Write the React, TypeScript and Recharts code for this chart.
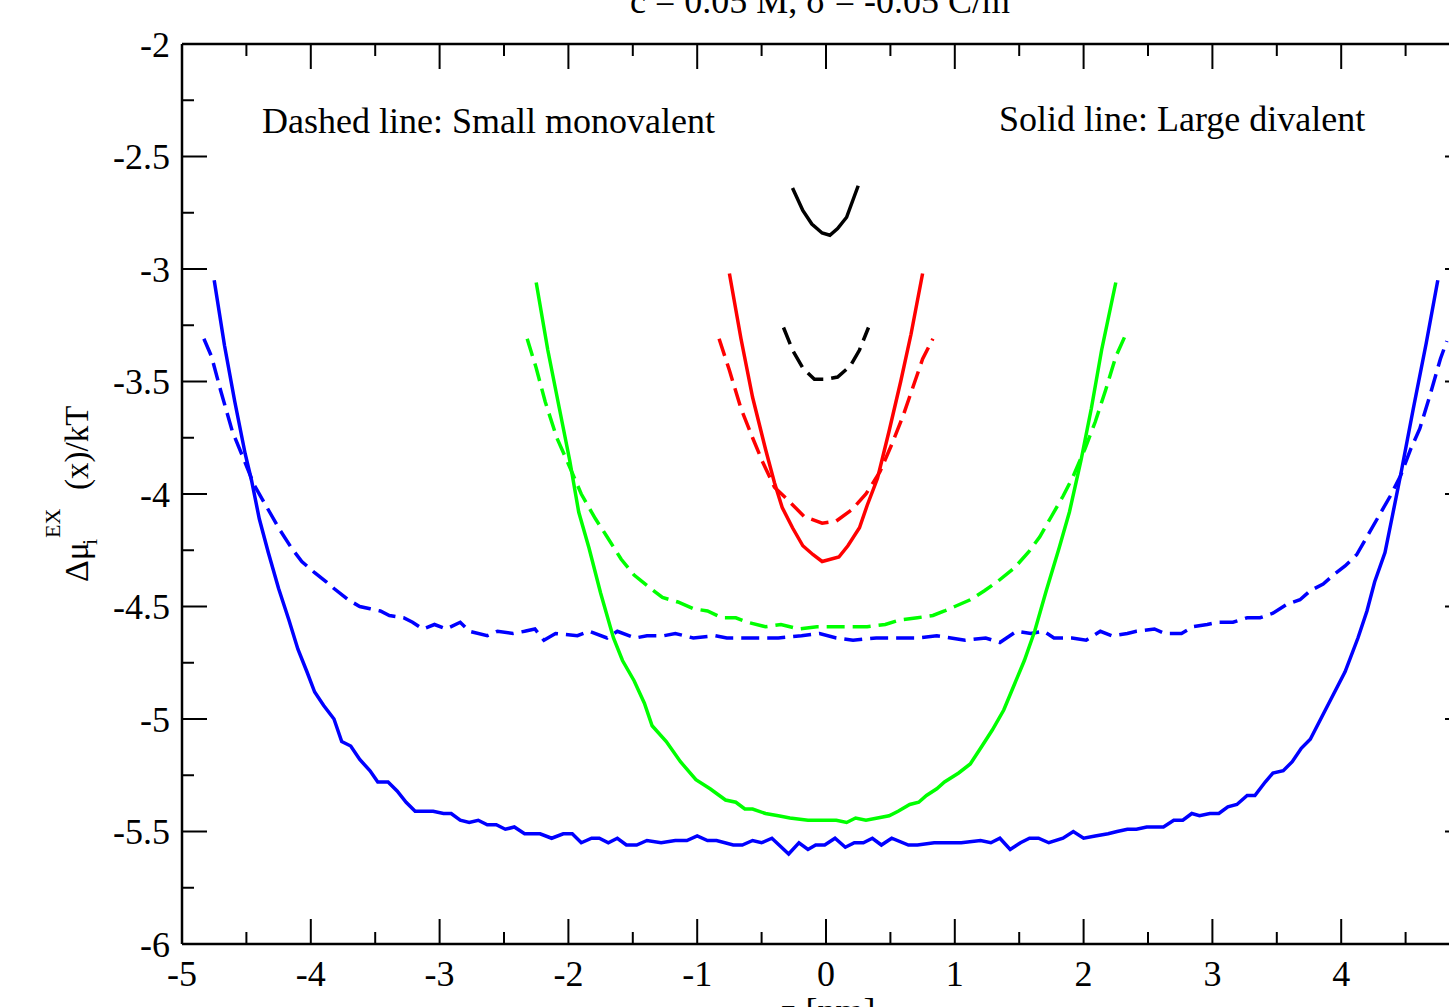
import React from "react";
import { LineChart, Line, XAxis, YAxis } from "recharts";

// Excess chemical potential profiles across the pore, z in nm
type Pt = [number, number];

const blueSolid: Pt[] = [
  [-4.75, -3.05], [-4.67, -3.34], [-4.59, -3.59], [-4.51, -3.82], [-4.46, -3.94], [-4.4, -4.11],
  [-4.33, -4.26], [-4.25, -4.42], [-4.17, -4.56], [-4.1, -4.69], [-4.03, -4.79], [-3.97, -4.88],
  [-3.9, -4.94], [-3.82, -5.0], [-3.76, -5.1], [-3.69, -5.12], [-3.62, -5.18], [-3.54, -5.23],
  [-3.48, -5.28], [-3.4, -5.28], [-3.33, -5.32], [-3.26, -5.37], [-3.19, -5.41], [-3.05, -5.41],
  [-2.97, -5.42], [-2.91, -5.42], [-2.84, -5.45], [-2.77, -5.46], [-2.7, -5.45], [-2.63, -5.47],
  [-2.56, -5.47], [-2.49, -5.49], [-2.42, -5.48], [-2.34, -5.51], [-2.28, -5.51], [-2.22, -5.51],
  [-2.13, -5.53], [-2.04, -5.51], [-1.97, -5.51], [-1.9, -5.55], [-1.82, -5.53], [-1.76, -5.53],
  [-1.69, -5.55], [-1.62, -5.53], [-1.55, -5.56], [-1.47, -5.56], [-1.39, -5.54], [-1.28, -5.55],
  [-1.17, -5.54], [-1.08, -5.54], [-1.0, -5.52], [-0.92, -5.54], [-0.85, -5.54], [-0.72, -5.56],
  [-0.65, -5.56], [-0.57, -5.54], [-0.5, -5.55], [-0.42, -5.53], [-0.29, -5.6], [-0.21, -5.55],
  [-0.14, -5.58], [-0.08, -5.56], [-0.01, -5.56], [0.07, -5.53], [0.15, -5.57], [0.22, -5.55],
  [0.29, -5.55], [0.36, -5.53], [0.43, -5.56], [0.51, -5.53], [0.64, -5.56], [0.71, -5.56],
  [0.84, -5.55], [0.95, -5.55], [1.05, -5.55], [1.2, -5.54], [1.28, -5.55], [1.35, -5.53],
  [1.43, -5.58], [1.51, -5.55], [1.58, -5.53], [1.65, -5.53], [1.73, -5.55], [1.84, -5.53],
  [1.92, -5.5], [2.0, -5.53], [2.09, -5.52], [2.19, -5.51], [2.26, -5.5], [2.34, -5.49],
  [2.41, -5.49], [2.49, -5.48], [2.62, -5.48], [2.7, -5.45], [2.77, -5.45], [2.84, -5.42],
  [2.9, -5.43], [2.98, -5.42], [3.05, -5.42], [3.12, -5.39], [3.19, -5.38], [3.27, -5.34],
  [3.33, -5.34], [3.41, -5.28], [3.47, -5.24], [3.55, -5.23], [3.62, -5.19], [3.69, -5.13],
  [3.76, -5.09], [3.85, -4.99], [3.94, -4.89], [4.03, -4.79], [4.13, -4.64], [4.2, -4.52],
  [4.26, -4.39], [4.34, -4.26], [4.4, -4.09], [4.47, -3.89], [4.56, -3.62], [4.66, -3.33],
  [4.75, -3.05],
];

const blueDashed: Pt[] = [
  [-4.83, -3.31], [-4.77, -3.39], [-4.7, -3.54], [-4.61, -3.72], [-4.51, -3.86], [-4.44, -3.96],
  [-4.33, -4.07], [-4.24, -4.16], [-4.15, -4.24], [-4.07, -4.3], [-3.97, -4.35], [-3.88, -4.39],
  [-3.82, -4.42], [-3.71, -4.47], [-3.62, -4.5], [-3.54, -4.51], [-3.46, -4.52], [-3.39, -4.54],
  [-3.28, -4.55], [-3.21, -4.57], [-3.13, -4.6], [-3.04, -4.58], [-2.95, -4.6], [-2.84, -4.57],
  [-2.77, -4.61], [-2.63, -4.63], [-2.55, -4.61], [-2.43, -4.62], [-2.34, -4.61], [-2.26, -4.6],
  [-2.19, -4.65], [-2.1, -4.62], [-1.93, -4.63], [-1.84, -4.61], [-1.7, -4.64], [-1.62, -4.61],
  [-1.48, -4.64], [-1.39, -4.63], [-1.26, -4.63], [-1.17, -4.62], [-1.03, -4.64], [-0.86, -4.63],
  [-0.77, -4.64], [-0.54, -4.64], [-0.37, -4.64], [-0.19, -4.63], [-0.05, -4.62], [0.08, -4.64],
  [0.21, -4.65], [0.39, -4.64], [0.57, -4.64], [0.71, -4.64], [0.86, -4.63], [0.97, -4.64],
  [1.08, -4.65], [1.24, -4.64], [1.35, -4.66], [1.48, -4.61], [1.59, -4.62], [1.69, -4.61],
  [1.77, -4.64], [1.91, -4.64], [2.02, -4.65], [2.13, -4.61], [2.22, -4.63], [2.34, -4.62],
  [2.41, -4.61], [2.55, -4.6], [2.63, -4.62], [2.76, -4.62], [2.85, -4.59], [2.96, -4.58],
  [3.04, -4.57], [3.16, -4.57], [3.27, -4.55], [3.37, -4.55], [3.47, -4.53], [3.58, -4.49],
  [3.68, -4.47], [3.76, -4.43], [3.86, -4.4], [3.94, -4.36], [4.03, -4.32], [4.12, -4.27],
  [4.2, -4.19], [4.3, -4.09], [4.38, -4.01], [4.46, -3.92], [4.54, -3.8], [4.61, -3.71],
  [4.69, -3.56], [4.77, -3.4], [4.82, -3.32],
];

const greenSolid: Pt[] = [
  [-2.25, -3.06], [-2.16, -3.36], [-2.07, -3.62], [-1.99, -3.85], [-1.92, -4.08], [-1.84, -4.24],
  [-1.75, -4.44], [-1.65, -4.64], [-1.58, -4.74], [-1.49, -4.83], [-1.41, -4.93], [-1.35, -5.03],
  [-1.24, -5.1], [-1.13, -5.19], [-1.01, -5.27], [-0.9, -5.31], [-0.78, -5.36], [-0.7, -5.37],
  [-0.63, -5.4], [-0.57, -5.4], [-0.47, -5.42], [-0.37, -5.43], [-0.28, -5.44], [-0.14, -5.45],
  [-0.01, -5.45], [0.08, -5.45], [0.16, -5.46], [0.23, -5.44], [0.31, -5.45], [0.4, -5.44],
  [0.49, -5.43], [0.56, -5.41], [0.65, -5.38], [0.72, -5.37], [0.78, -5.34], [0.86, -5.31],
  [0.92, -5.28], [1.03, -5.24], [1.12, -5.2], [1.2, -5.13], [1.29, -5.05], [1.38, -4.96],
  [1.46, -4.85], [1.54, -4.74], [1.62, -4.61], [1.71, -4.43], [1.81, -4.24], [1.89, -4.08],
  [1.98, -3.85], [2.06, -3.62], [2.14, -3.36], [2.25, -3.06],
];

const greenDashed: Pt[] = [
  [-2.32, -3.31], [-2.25, -3.44], [-2.18, -3.59], [-2.09, -3.75], [-1.99, -3.88], [-1.9, -4.0],
  [-1.79, -4.11], [-1.7, -4.19], [-1.59, -4.29], [-1.49, -4.36], [-1.36, -4.42], [-1.27, -4.46],
  [-1.15, -4.48], [-1.03, -4.51], [-0.92, -4.52], [-0.81, -4.55], [-0.7, -4.55], [-0.61, -4.57],
  [-0.47, -4.59], [-0.35, -4.58], [-0.21, -4.6], [-0.07, -4.59], [0.08, -4.59], [0.2, -4.59],
  [0.32, -4.59], [0.46, -4.58], [0.57, -4.56], [0.71, -4.55], [0.83, -4.54], [0.92, -4.52],
  [1.0, -4.5], [1.12, -4.47], [1.23, -4.43], [1.33, -4.39], [1.46, -4.33], [1.57, -4.26],
  [1.66, -4.19], [1.75, -4.1], [1.84, -4.01], [1.92, -3.92], [2.01, -3.8], [2.09, -3.68],
  [2.17, -3.54], [2.25, -3.39], [2.32, -3.3],
];

const redSolid: Pt[] = [
  [-0.75, -3.02], [-0.66, -3.31], [-0.57, -3.57], [-0.47, -3.8], [-0.4, -3.95], [-0.34, -4.06],
  [-0.26, -4.15], [-0.18, -4.23], [-0.1, -4.27], [-0.03, -4.3], [0.1, -4.28], [0.17, -4.23],
  [0.26, -4.15], [0.32, -4.05], [0.4, -3.93], [0.49, -3.72], [0.58, -3.5], [0.66, -3.29],
  [0.75, -3.02],
];

const redDashed: Pt[] = [
  [-0.83, -3.31], [-0.75, -3.45], [-0.66, -3.62], [-0.57, -3.75], [-0.49, -3.86], [-0.4, -3.97],
  [-0.29, -4.03], [-0.17, -4.1], [-0.03, -4.13], [0.08, -4.12], [0.2, -4.07], [0.31, -4.0],
  [0.42, -3.9], [0.51, -3.78], [0.6, -3.65], [0.69, -3.5], [0.75, -3.4], [0.83, -3.31],
];

const blackSolid: Pt[] = [
  [-0.26, -2.64], [-0.18, -2.74], [-0.11, -2.8], [-0.03, -2.84], [0.03, -2.85], [0.09, -2.82],
  [0.16, -2.77], [0.25, -2.63],
];

const blackDashed: Pt[] = [
  [-0.33, -3.26], [-0.26, -3.36], [-0.18, -3.44], [-0.09, -3.49], [0.0, -3.49], [0.09, -3.48],
  [0.19, -3.43], [0.26, -3.36], [0.33, -3.26],
];

const xMajorTicks = [-5, -4, -3, -2, -1, 0, 1, 2, 3, 4, 5];
const xMinorTicks = [-4.5, -3.5, -2.5, -1.5, -0.5, 0.5, 1.5, 2.5, 3.5, 4.5];
const yMajorTicks = [-6, -5.5, -5, -4.5, -4, -3.5, -3, -2.5, -2];
const yMinorTicks = [-5.75, -5.25, -4.75, -4.25, -3.75, -3.25, -2.75, -2.25];

const titleText = "c = 0.05 M, σ = -0.05 C/m";
const xTitle = "z [nm]";
const noteDashed = "Dashed line: Small monovalent";
const noteSolid = "Solid line: Large divalent";

const FONT = "'Liberation Serif', 'Times New Roman', Times, serif";
const MAJOR_LEN = 25;
const MINOR_LEN = 12;

const toRows = (pts: Pt[]) => pts.map(([z, mu]) => ({ z, mu }));

const series = [
  { key: "blueDashed", pts: blueDashed, color: "#0000ff", dashed: true },
  { key: "blueSolid", pts: blueSolid, color: "#0000ff", dashed: false },
  { key: "greenDashed", pts: greenDashed, color: "#00ff00", dashed: true },
  { key: "greenSolid", pts: greenSolid, color: "#00ff00", dashed: false },
  { key: "redDashed", pts: redDashed, color: "#ff0000", dashed: true },
  { key: "redSolid", pts: redSolid, color: "#ff0000", dashed: false },
  { key: "blackDashed", pts: blackDashed, color: "#000000", dashed: true },
  { key: "blackSolid", pts: blackSolid, color: "#000000", dashed: false },
];

// Inward ticks: major ones are longer; only the primary axes carry labels
const makeTick = (side: "bottom" | "top" | "left" | "right", majors: number[]) => (props: any) => {
  const { x, y, payload } = props;
  const v = payload.value as number;
  const major = majors.includes(v);
  const len = major ? MAJOR_LEN : MINOR_LEN;
  let x2 = x, y2 = y;
  if (side === "bottom") y2 = y - len;
  if (side === "top") y2 = y + len;
  if (side === "left") x2 = x + len;
  if (side === "right") x2 = x - len;
  return (
    <g>
      <line x1={x} y1={y} x2={x2} y2={y2} stroke="#000" strokeWidth={2} />
      {major && side === "bottom" && (
        <text x={x} y={y + 42} textAnchor="middle" fontSize={36} fontFamily={FONT} fill="#000">
          {String(v)}
        </text>
      )}
      {major && side === "left" && (
        <text x={x - 12} y={y + 12.5} textAnchor="end" fontSize={36} fontFamily={FONT} fill="#000">
          {String(v)}
        </text>
      )}
    </g>
  );
};

const axisLine = { stroke: "#000", strokeWidth: 2.5 };

export default function App() {
  const xTicks = [...xMajorTicks, ...xMinorTicks].sort((a, b) => a - b);
  const yTicks = [...yMajorTicks, ...yMinorTicks].sort((a, b) => a - b);
  return (
    <div
      style={{
        position: "fixed",
        left: 0,
        top: 0,
        width: 1449,
        height: 1007,
        overflow: "hidden",
        background: "#fff",
      }}
    >
      <LineChart
        width={1500}
        height={1060}
        margin={{ top: 43, right: 29, bottom: 115, left: 181 }}
        style={{ fontFamily: FONT }}
      >
        <XAxis
          xAxisId="b"
          type="number"
          dataKey="z"
          domain={[-5, 5]}
          ticks={xTicks}
          interval={0}
          orientation="bottom"
          height={1}
          tickSize={0}
          tickMargin={0}
          tickLine={false}
          axisLine={axisLine}
          tick={makeTick("bottom", xMajorTicks)}
          allowDataOverflow
        />
        <XAxis
          xAxisId="t"
          type="number"
          dataKey="z"
          domain={[-5, 5]}
          ticks={xTicks}
          interval={0}
          orientation="top"
          height={1}
          tickSize={0}
          tickMargin={0}
          tickLine={false}
          axisLine={axisLine}
          tick={makeTick("top", xMajorTicks)}
          allowDataOverflow
        />
        <YAxis
          yAxisId="l"
          type="number"
          dataKey="mu"
          domain={[-6, -2]}
          ticks={yTicks}
          interval={0}
          orientation="left"
          width={1}
          tickSize={0}
          tickMargin={0}
          tickLine={false}
          axisLine={axisLine}
          tick={makeTick("left", yMajorTicks)}
          allowDataOverflow
        />
        <YAxis
          yAxisId="r"
          type="number"
          dataKey="mu"
          domain={[-6, -2]}
          ticks={yTicks}
          interval={0}
          orientation="right"
          width={1}
          tickSize={0}
          tickMargin={0}
          tickLine={false}
          axisLine={axisLine}
          tick={makeTick("right", yMajorTicks)}
          allowDataOverflow
        />
        {series.map((s) => (
          <Line
            key={s.key}
            xAxisId="b"
            yAxisId="l"
            data={toRows(s.pts)}
            dataKey="mu"
            type="linear"
            stroke={s.color}
            strokeWidth={3.5}
            strokeDasharray={s.dashed ? "18 8" : undefined}
            dot={false}
            activeDot={false}
            isAnimationActive={false}
          />
        ))}
        <text x={826} y={13} textAnchor="middle" fontSize={36} fontFamily={FONT} fill="#000">
          {titleText}
          <tspan fontSize={24} dy={-14}>2</tspan>
        </text>
        <text x={262} y={133} fontSize={36} fontFamily={FONT} fill="#000">
          {noteDashed}
        </text>
        <text x={999} y={131} fontSize={36} fontFamily={FONT} fill="#000">
          {noteSolid}
        </text>
        <text x={828} y={1023} textAnchor="middle" fontSize={36} fontFamily={FONT} fill="#000">
          {xTitle}
        </text>
        <g transform="translate(88, 582) rotate(-90)" fontFamily={FONT} fill="#000">
          <text x={0} y={0} fontSize={34}>Δμ</text>
          <text x={37} y={9} fontSize={22}>i</text>
          <text x={44} y={-28} fontSize={22}>EX</text>
          <text x={92} y={0} fontSize={33}>(x)/kT</text>
        </g>
      </LineChart>
    </div>
  );
}
